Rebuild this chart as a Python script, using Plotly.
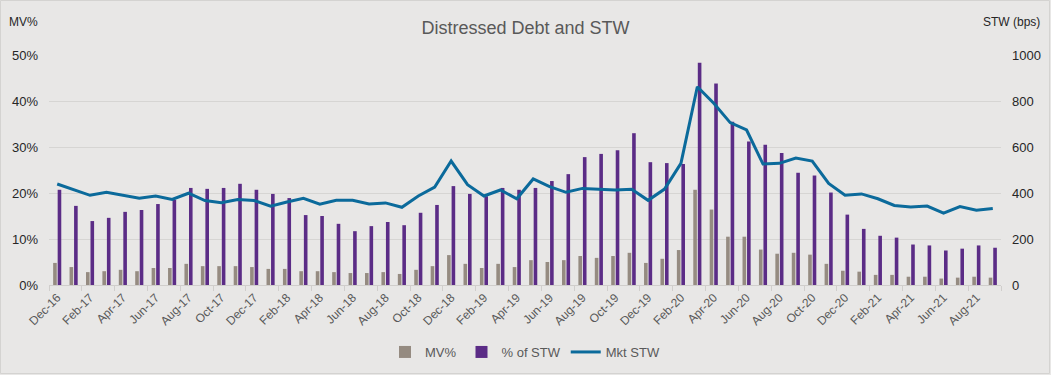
import plotly.graph_objects as go

months = ["Dec-16", "Jan-17", "Feb-17", "Mar-17", "Apr-17", "May-17", "Jun-17", "Jul-17",
          "Aug-17", "Sep-17", "Oct-17", "Nov-17", "Dec-17", "Jan-18", "Feb-18", "Mar-18",
          "Apr-18", "May-18", "Jun-18", "Jul-18", "Aug-18", "Sep-18", "Oct-18", "Nov-18",
          "Dec-18", "Jan-19", "Feb-19", "Mar-19", "Apr-19", "May-19", "Jun-19", "Jul-19",
          "Aug-19", "Sep-19", "Oct-19", "Nov-19", "Dec-19", "Jan-20", "Feb-20", "Mar-20",
          "Apr-20", "May-20", "Jun-20", "Jul-20", "Aug-20", "Sep-20", "Oct-20", "Nov-20",
          "Dec-20", "Jan-21", "Feb-21", "Mar-21", "Apr-21", "May-21", "Jun-21", "Jul-21",
          "Aug-21", "Sep-21"]

mv_pct = [4.8, 3.9, 2.8, 3.0, 3.3, 3.0, 3.7, 3.7, 4.6, 4.1, 4.1, 4.1, 3.9, 3.5, 3.5, 3.0,
          3.0, 2.8, 2.6, 2.6, 2.8, 2.4, 3.3, 4.1, 6.5, 4.6, 3.7, 4.6, 3.9, 5.4, 5.0, 5.4,
          6.3, 5.9, 6.3, 7.0, 4.8, 5.7, 7.6, 20.7, 16.4, 10.5, 10.5, 7.7, 6.8, 7.0, 6.6, 4.6,
          3.1, 2.9, 2.2, 2.2, 1.8, 1.8, 1.4, 1.6, 1.8, 1.6]

pct_stw = [20.7, 17.2, 13.9, 14.6, 15.9, 16.3, 17.6, 18.5, 21.1, 20.9, 21.1, 22.0, 20.7, 19.8,
           18.9, 15.2, 15.0, 13.3, 11.7, 12.8, 13.7, 13.0, 15.7, 17.4, 21.5, 19.8, 19.3, 21.1,
           20.7, 21.1, 22.6, 24.1, 27.8, 28.5, 29.3, 33.0, 26.7, 26.5, 26.3, 48.3, 43.8, 35.5,
           31.2, 30.5, 28.7, 24.4, 23.8, 20.1, 15.3, 12.2, 10.7, 10.3, 8.8, 8.6, 7.5, 7.9,
           8.6, 8.1]

mkt_stw = [439, 414, 390, 403, 390, 377, 387, 372, 399, 367, 358, 372, 367, 343, 361, 377,
           351, 368, 368, 352, 357, 338, 387, 426, 539, 436, 387, 413, 375, 461, 428, 403,
           420, 417, 413, 416, 368, 417, 529, 862, 790, 706, 674, 526, 529, 552, 539, 442,
           390, 396, 375, 346, 339, 343, 312, 341, 325, 333]

left_ticks = [0, 10, 20, 30, 40, 50]
right_ticks = [0, 200, 400, 600, 800, 1000]

x = list(range(len(months)))
tick_idx = list(range(0, len(months), 2))

GRAY = "#958B81"
PURPLE = "#5B2C86"
BLUE = "#0B6A9B"
TXT = "#595959"
BG = "#E8E7E6"

W, H = 1051, 375
ML, MR, MT, MB = 49, 50, 55, 90
PW, PH = W - ML - MR, H - MT - MB

fig = go.Figure()
fig.add_trace(go.Bar(x=x, y=mv_pct, name="MV%", marker_color=GRAY, marker_line_width=0))
fig.add_trace(go.Bar(x=x, y=pct_stw, name="% of STW", marker_color=PURPLE, marker_line_width=0))
fig.add_trace(go.Scatter(x=x, y=mkt_stw, name="Mkt STW", mode="lines",
                         line=dict(color=BLUE, width=3), yaxis="y2"))

fig.update_layout(
    width=W, height=H,
    paper_bgcolor=BG, plot_bgcolor=BG,
    margin=dict(l=ML, r=MR, t=MT, b=MB, autoexpand=False),
    font=dict(family="Liberation Sans, Arial, sans-serif", size=12, color=TXT),
    title=dict(text="Distressed Debt and STW", x=0.5, xanchor="center", y=1 - 28 / H,
               yanchor="middle", font=dict(size=18, color=TXT)),
    barmode="group", bargap=0.45, bargroupgap=0.2,
    xaxis=dict(range=[-0.5, len(months) - 0.5], tickmode="array", tickvals=tick_idx,
               ticktext=[months[i] for i in tick_idx], tickangle=-45, ticks="",
               showgrid=False, showline=True, linecolor="#D0CECC", linewidth=1,
               automargin=False, tickfont=dict(size=12, color=TXT),
               minor=dict(tick0=-0.5, dtick=2, ticks="outside", ticklen=5, tickcolor="#D0CECC",
                          showgrid=False)),
    yaxis=dict(range=[0, 50], tickvals=left_ticks, ticktext=[f"{v}%" for v in left_ticks],
               showgrid=True, gridcolor="#D6D5D3", gridwidth=1, zeroline=False,
               automargin=False, tickfont=dict(size=13, color="#262626"), ticks="",
               ticklabelstandoff=10),
    yaxis2=dict(range=[0, 1000], tickvals=right_ticks, overlaying="y", side="right",
                showgrid=False, zeroline=False, automargin=False, ticklabelstandoff=10,
                tickfont=dict(size=13, color="#262626")),
    legend=dict(orientation="h", x=0.5, xanchor="center", y=-(352 - (MT + PH)) / PH,
                yanchor="middle", font=dict(size=13, color=TXT), bgcolor="rgba(0,0,0,0)",
                traceorder="normal"),
    showlegend=True,
)

fig.add_annotation(text="MV%", xref="paper", yref="paper", x=-(ML - 7) / PW, y=1 + (MT - 22) / PH,
                   xanchor="left", yanchor="middle", showarrow=False,
                   font=dict(size=12, color="#262626"))
fig.add_annotation(text="STW (bps)", xref="paper", yref="paper", x=1 + 41 / PW, y=1 + (MT - 22) / PH,
                   xanchor="right", yanchor="middle", showarrow=False,
                   font=dict(size=12, color="#262626"))
fig.add_shape(type="rect", xref="paper", yref="paper", x0=-(ML - 0.5) / PW, x1=1 + (MR - 1.5) / PW,
              y0=-(MB - 1.5) / PH, y1=1 + (MT - 0.5) / PH,
              line=dict(color="#D4D3D1", width=1), fillcolor="rgba(0,0,0,0)")

fig.write_html("out.html", config={"displayModeBar": False},
               post_script="document.body.style.margin='0';")
